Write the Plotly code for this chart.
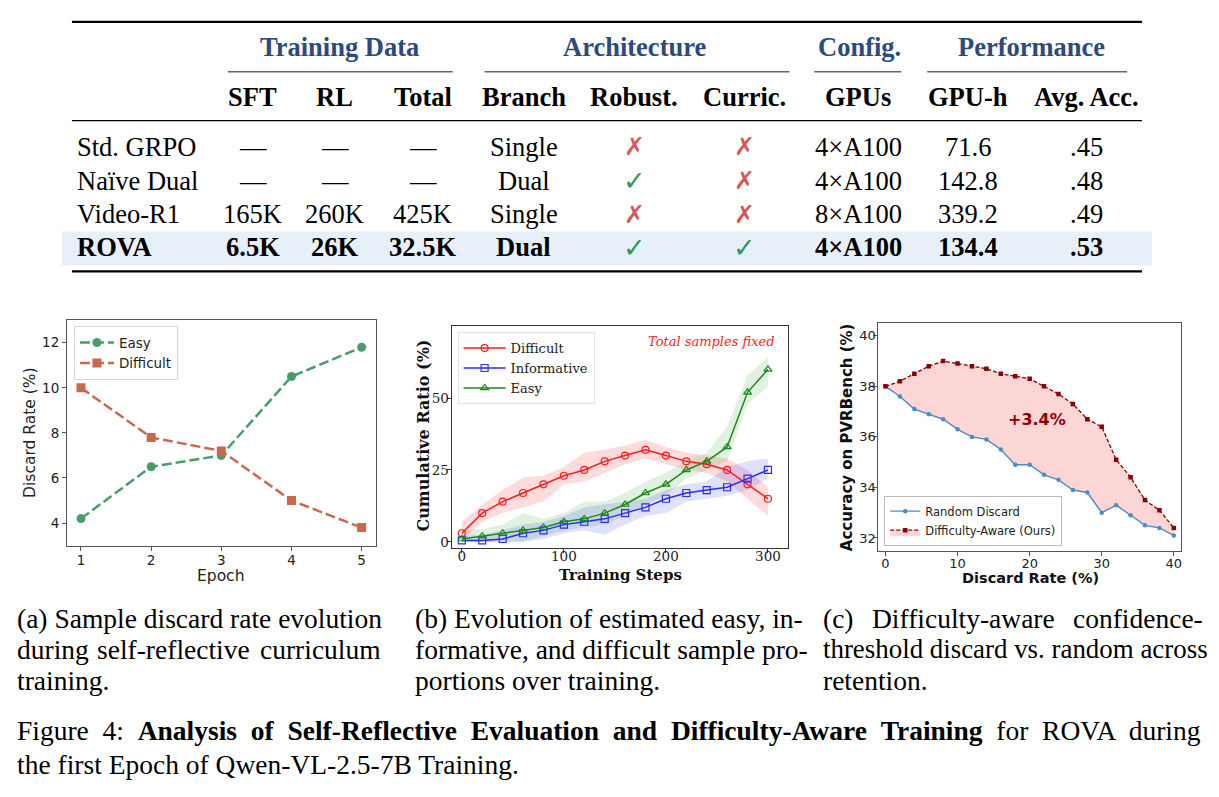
import plotly.graph_objects as go

W, H = 1219, 797
SERIF = "Liberation Serif"
SANS = "DejaVu Sans"
DSERIF = "DejaVu Serif"

# ---------------- Table data ----------------
row_names = ["Std. GRPO", "Naïve Dual", "Video-R1", "ROVA"]
group_headers = ["Training Data", "Architecture", "Config.", "Performance"]
col_headers = ["SFT", "RL", "Total", "Branch", "Robust.", "Curric.", "GPUs", "GPU-h", "Avg. Acc."]
sft = ["—", "—", "165K", "6.5K"]
rl = ["—", "—", "260K", "26K"]
total = ["—", "—", "425K", "32.5K"]
branch = ["Single", "Dual", "Single", "Dual"]
robust = [False, True, False, True]
curric = [False, False, False, True]
gpus = ["4×A100", "4×A100", "8×A100", "4×A100"]
gpu_h = [71.6, 142.8, 339.2, 134.4]
avg_acc = [0.45, 0.48, 0.49, 0.53]

# ---------------- Panel (a) ----------------
epochs = [1, 2, 3, 4, 5]
easy_rate = [4.2, 6.5, 7.0, 10.5, 11.8]
difficult_rate = [10.0, 7.8, 7.2, 5.0, 3.8]

# ---------------- Panel (b) ----------------
steps = [0, 20, 40, 60, 80, 100, 120, 140, 160, 180, 200, 220, 240, 260, 280, 300]
difficult_ratio = [3, 10, 14, 17, 20, 23, 25, 28, 30, 32, 30, 28, 27, 25, 20, 15]
difficult_hi = [7, 13, 18, 22.5, 23, 26, 31, 32, 33.5, 35.5, 33, 31, 30, 29, 25, 19]
difficult_lo = [0, 7, 10, 12, 14, 20, 21, 24, 27, 29, 27, 25, 24, 21, 15, 9]
informative_ratio = [0.5, 0.5, 1, 3, 4, 6, 7, 8, 10, 12, 15, 17, 18, 19, 22, 25]
informative_hi = [2, 2.5, 4, 6, 7, 9, 12, 13, 14, 15, 18, 20, 21, 26, 28, 29]
informative_lo = [0, 0, 0, 0, 1, 3, 4, 2.5, 6, 9, 10, 14, 15, 16, 18, 22]
easy_ratio = [1, 2, 3, 4, 5, 7, 8, 10, 13, 17, 20, 25, 28, 33, 52, 60]
easy_hi = [4, 4.5, 6, 10, 8, 10, 14, 14, 17, 21, 24, 28, 31, 40, 58, 64]
easy_lo = [0, 0, 0, 0, 2, 4, 5, 6, 9, 13, 16, 22, 25, 28, 48, 54]

# ---------------- Panel (c) ----------------
discard_rate = [0, 2, 4, 6, 8, 10, 12, 14, 16, 18, 20, 22, 24, 26, 28, 30, 32, 34, 36, 38, 40]
random_acc = [38.0, 37.6, 37.1, 36.9, 36.7, 36.3, 36.0, 35.9, 35.5, 34.9, 34.9,
              34.5, 34.3, 33.9, 33.8, 33.0, 33.3, 32.9, 32.5, 32.4, 32.1]
aware_acc = [38.0, 38.2, 38.5, 38.8, 39.0, 38.9, 38.8, 38.7, 38.5, 38.4, 38.3,
             38.0, 37.7, 37.3, 36.7, 36.4, 35.1, 34.4, 33.5, 33.1, 32.4]

# ---------------- helpers ----------------
def fx(x):
    return x / W

def fy(y):
    return 1 - y / H

annotations = []
shapes = []

def ann(text, x, y, size, family=SERIF, color="black", xanchor="center", yanchor="middle", **kw):
    annotations.append(dict(text=text, x=fx(x), y=fy(y), xref="paper", yref="paper",
                            showarrow=False, font=dict(family=family, size=size, color=color),
                            xanchor=xanchor, yanchor=yanchor, **kw))

def hline(x0, x1, y, width=1, color="black"):
    shapes.append(dict(type="line", xref="paper", yref="paper", x0=fx(x0), x1=fx(x1),
                       y0=fy(y), y1=fy(y), line=dict(color=color, width=width)))

fig = go.Figure()

# ---------------- Table ----------------
TS = 26.5
HEAD_BLUE = "#2c4a7e"
shapes.append(dict(type="rect", xref="paper", yref="paper", x0=fx(62), x1=fx(1153),
                   y0=fy(266), y1=fy(232), fillcolor="#e7f0f9", line=dict(width=0), layer="below"))
hline(72, 1143, 22, 2.2)
hline(72, 1143, 121, 1.3)
hline(72, 1143, 272, 2.2)
group_x = [340, 635, 860, 1032]
group_rules = [(228, 453), (485, 790), (815, 902), (928, 1128)]
for g, gx, (a0, a1) in zip(group_headers, group_x, group_rules):
    ann("<b>%s</b>" % g, gx, 47, TS, color=HEAD_BLUE)
    hline(a0, a1, 72, 1.6, "#666666")
col_x = [253, 335, 423, 524, 635, 745, 859, 969, 1087]
for c, cx in zip(col_headers, col_x):
    ann("<b>%s</b>" % c, cx, 97, TS)
row_y = [147, 181, 215, 248]
for i, ry in enumerate(row_y):
    bold = (i == len(row_y) - 1)
    def t(s):
        return "<b>%s</b>" % s if bold else s
    ann(t(row_names[i]), 75, ry, TS, xanchor="left")
    vals = [sft[i], rl[i], total[i], branch[i], None, None, gpus[i],
            "%.1f" % gpu_h[i], ("%.2f" % avg_acc[i]).lstrip("0")]
    for v, cx in zip(vals, col_x):
        if v is not None:
            ann(t(v), cx, ry, TS)
    for flag, cx in ((robust[i], col_x[4]), (curric[i], col_x[5])):
        if flag:
            ann("✓", cx, ry, 27, family=SANS, color="#2e9a5c")
        else:
            ann("✗", cx, ry, 25, family=SANS, color="#d65858")

# ---------------- Panel (a) ----------------
GREEN_A = "#4a9d6b"
RED_A = "#c8694e"
fig.add_trace(go.Scatter(x=epochs, y=easy_rate, mode="lines+markers", name="Easy",
                         line=dict(color=GREEN_A, width=2.5, dash="10px,4px"),
                         marker=dict(symbol="circle", size=9, color=GREEN_A),
                         xaxis="x", yaxis="y", legend="legend"))
fig.add_trace(go.Scatter(x=epochs, y=difficult_rate, mode="lines+markers", name="Difficult",
                         line=dict(color=RED_A, width=2.5, dash="10px,4px"),
                         marker=dict(symbol="square", size=9, color=RED_A),
                         xaxis="x", yaxis="y", legend="legend"))

# ---------------- Panel (b) ----------------
bands = [(difficult_lo, difficult_hi, "rgba(255,0,0,0.14)"),
         (informative_lo, informative_hi, "rgba(0,0,255,0.12)"),
         (easy_lo, easy_hi, "rgba(0,140,0,0.12)")]
for lo, hi, fc in bands:
    fig.add_trace(go.Scatter(x=steps, y=lo, mode="lines", line=dict(width=0, color=fc),
                             showlegend=False, hoverinfo="skip", xaxis="x2", yaxis="y2"))
    fig.add_trace(go.Scatter(x=steps, y=hi, mode="lines", line=dict(width=0, color=fc),
                             fill="tonexty", fillcolor=fc, showlegend=False, hoverinfo="skip",
                             xaxis="x2", yaxis="y2"))
for name, vals, col, sym in (("Difficult", difficult_ratio, "#ff1a1a", "circle-open"),
                             ("Informative", informative_ratio, "#2a2aff", "square-open"),
                             ("Easy", easy_ratio, "#1a8a1a", "triangle-up-open")):
    fig.add_trace(go.Scatter(x=steps, y=vals, mode="lines+markers", name=name,
                             line=dict(color=col, width=1.5),
                             marker=dict(symbol=sym, size=7, color=col, line=dict(width=1.2, color=col)),
                             xaxis="x2", yaxis="y2", legend="legend2"))

# ---------------- Panel (c) ----------------
BLUE_C = "#4a8cc6"
DRED_C = "#8b0000"
fig.add_trace(go.Scatter(x=discard_rate, y=random_acc, mode="lines+markers", name="Random Discard",
                         line=dict(color=BLUE_C, width=1.4), marker=dict(symbol="circle", size=4.5, color=BLUE_C),
                         xaxis="x3", yaxis="y3", legend="legend3"))
fig.add_trace(go.Scatter(x=discard_rate, y=aware_acc, mode="lines+markers", name="Difficulty-Aware (Ours)",
                         line=dict(color=DRED_C, width=1.3, dash="4px,2px"),
                         marker=dict(symbol="square", size=4.5, color=DRED_C),
                         fill="tonexty", fillcolor="rgba(250,190,190,0.65)",
                         xaxis="x3", yaxis="y3", legend="legend3"))

# ---------------- Axes ----------------
def dom_x(a, b):
    return [fx(a), fx(b)]

def dom_y(top, bottom):
    return [fy(bottom), fy(top)]

frame_a = "#555555"
common_tick = dict(ticks="outside", ticklen=4, tickwidth=1, showgrid=False, zeroline=False,
                   showline=True, mirror=True)

layout = dict(
    width=W, height=H, margin=dict(l=0, r=0, t=0, b=0),
    paper_bgcolor="white", plot_bgcolor="white", showlegend=True,
    xaxis=dict(domain=dom_x(67, 376), anchor="y", range=[0.8, 5.2], tickvals=epochs,
               linecolor=frame_a, tickcolor=frame_a, tickfont=dict(family=SANS, size=13.5, color="#222"),
               ticklabelstandoff=-2, **common_tick),
    yaxis=dict(domain=dom_y(321, 547), anchor="x", range=[3, 13], tickvals=[4, 6, 8, 10, 12],
               linecolor=frame_a, tickcolor=frame_a, tickfont=dict(family=SANS, size=13.5, color="#222"),
               **common_tick),
    xaxis2=dict(domain=dom_x(452, 789), anchor="y2", range=[-10, 320], tickvals=[0, 100, 200, 300],
                linecolor="#333", tickcolor="#333", tickfont=dict(family=DSERIF, size=13.5, color="#222"),
                ticklabelstandoff=-8, **common_tick),
    yaxis2=dict(domain=dom_y(327, 549), anchor="x2", range=[-2, 75], tickvals=[0, 25, 50],
                linecolor="#333", tickcolor="#333", tickfont=dict(family=DSERIF, size=13.5, color="#222"),
                ticklabelstandoff=-5, **common_tick),
    xaxis5=dict(overlaying="x2", anchor="y2", side="top", range=[-10, 320], tickvals=[0, 100, 200, 300],
                ticks="inside", ticklen=4, tickcolor="#333", showticklabels=False, showgrid=False,
                zeroline=False, showline=False),
    yaxis5=dict(overlaying="y2", anchor="x2", side="right", range=[-2, 75], tickvals=[0, 25, 50],
                ticks="inside", ticklen=4, tickcolor="#333", showticklabels=False, showgrid=False,
                zeroline=False, showline=False),
    xaxis3=dict(domain=dom_x(879, 1182), anchor="y3", range=[-1, 41], tickvals=[0, 10, 20, 30, 40],
                linecolor=frame_a, tickcolor=frame_a, tickfont=dict(family=SANS, size=13, color="#222"),
                ticklabelstandoff=-3, **common_tick),
    yaxis3=dict(domain=dom_y(324, 552), anchor="x3", range=[31.5, 40.5], tickvals=[32, 34, 36, 38, 40],
                linecolor=frame_a, tickcolor=frame_a, tickfont=dict(family=SANS, size=13, color="#222"),
                ticklabelstandoff=-5, **common_tick),
    legend=dict(x=fx(74), y=fy(327), xanchor="left", yanchor="top", bgcolor="white",
                bordercolor="#d8d8d8", borderwidth=1, font=dict(family=SANS, size=13.5, color="#222"),
                tracegroupgap=0, traceorder="normal", itemwidth=34),
    legend2=dict(x=fx(458), y=fy(333), xanchor="left", yanchor="top", bgcolor="white",
                 bordercolor="#e2e2e2", borderwidth=1, font=dict(family=DSERIF, size=13, color="#222"),
                 tracegroupgap=0, traceorder="normal", itemwidth=42),
    legend3=dict(x=fx(885), y=fy(547), xanchor="left", yanchor="bottom", bgcolor="white",
                 bordercolor="#bbbbbb", borderwidth=1, font=dict(family=SANS, size=11.5, color="#222"),
                 tracegroupgap=0, traceorder="normal"),
)

# axis titles & in-plot text
ann("Discard Rate (%)", 30, 433, 15.5, family=SANS, color="#222", textangle=-90)
ann("Epoch", 221, 577, 15.5, family=SANS, color="#222")
ann("<b>Cumulative Ratio (%)</b>", 424, 437, 16, family=DSERIF, color="#111", textangle=-90)
ann("<b>Training Steps</b>", 621, 576, 15, family=DSERIF, color="#111")
ann("<i>Total samples fixed</i>", 778, 342, 13, family=DSERIF, color="#ff1a1a", xanchor="right")
ann("<b>Accuracy on PVRBench (%)</b>", 848, 438, 15, family=SANS, color="#111", textangle=-90)
ann("<b>Discard Rate (%)</b>", 1031, 579, 14.5, family=SANS, color="#111")
annotations.append(dict(text="<b>+3.4%</b>", x=21, y=36.7, xref="x3", yref="y3", showarrow=False,
                        font=dict(family=SANS, size=16, color="#8b0000")))

# sub-captions
CS = 27.5
ann("(a) Sample discard rate evolution", 15, 620, CS, xanchor="left")
ann("during", 15, 651, CS, xanchor="left")
ann("self-reflective", 174, 651, CS)
ann("curriculum", 383, 651, CS, xanchor="right")
ann("training.", 15, 682, CS, xanchor="left")
ann("(b) Evolution of estimated easy, in-", 413, 620, CS, xanchor="left")
ann("formative, and difficult sample pro-", 413, 651, CS, xanchor="left")
ann("portions over training.", 413, 682, CS, xanchor="left")
ann("(c)", 822, 620, CS, xanchor="left")
ann("Difficulty-aware", 964, 620, CS)
ann("confidence-", 1206, 620, CS, xanchor="right")
ann("threshold discard vs. random across", 822, 651, 26.9, xanchor="left")
ann("retention.", 822, 682, CS, xanchor="left")

SP = " \u00a0"
cap1 = SP.join(["Figure", "4:", "<b>Analysis", "of", "Self-Reflective", "Evaluation", "and",
                "Difficulty-Aware", "Training</b>", "for", "ROVA", "during"])
ann(cap1, 15, 732, CS, xanchor="left")
ann("the first Epoch of Qwen-VL-2.5-7B Training.", 15, 766, CS, xanchor="left")

layout["annotations"] = annotations
layout["shapes"] = shapes
fig.update_layout(**layout)
fig.write_html("out.html")
